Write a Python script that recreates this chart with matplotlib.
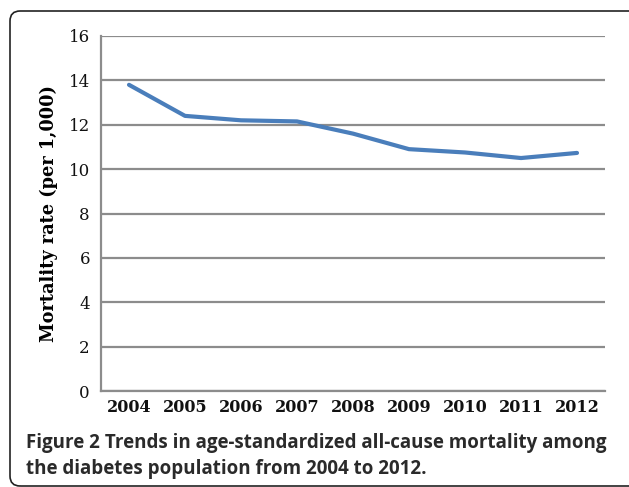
import matplotlib
matplotlib.use("Agg")
import matplotlib.pyplot as plt
from matplotlib.patches import FancyBboxPatch

# Age-standardized all-cause mortality (per 1,000)
years = ["2004", "2005", "2006", "2007", "2008", "2009", "2010", "2011", "2012"]
mortality = [13.8, 12.4, 12.2, 12.15, 11.6, 10.9, 10.75, 10.5, 10.73]
y_ticks = [0, 2, 4, 6, 8, 10, 12, 14, 16]

W, H = 629, 487
fig = plt.figure(figsize=(W / 100, H / 100), dpi=100)

# plot area in pixels: left 101, right 605, top 36, bottom 391
ax = fig.add_axes([101 / W, 1 - 391 / H, 504 / W, 355 / H])

x = list(range(len(years)))
ax.plot(x, mortality, color="#4a7ebb", lw=3.0, solid_capstyle="round", zorder=3)

ax.set_xlim(-0.5, len(years) - 0.5)
ax.set_ylim(0, 16)
ax.set_yticks(y_ticks)
ax.set_yticklabels([str(v) for v in y_ticks], family="DejaVu Serif", fontsize=12)
ax.set_xticks(x)
ax.set_xticklabels(years, family="DejaVu Serif", fontweight="bold", fontsize=11.5)
ax.tick_params(length=0, pad=8, colors="#111111")
ax.tick_params(axis="x", pad=6)

ax.grid(axis="y", color="#8c8c8c", lw=1.6)
ax.set_axisbelow(True)
for side in ["top", "right"]:
    ax.spines[side].set_visible(False)
for side in ["left", "bottom"]:
    ax.spines[side].set_color("#8c8c8c")
    ax.spines[side].set_linewidth(1.6)

ax.set_ylabel("Mortality rate (per 1,000)", family="DejaVu Serif",
              fontweight="bold", fontsize=12.8, labelpad=8)

# caption
cap_kw = dict(family="Open Sans", fontsize=13.5, color="#2a2a2a",
              fontweight="bold")
t1 = fig.text(26 / W, 1 - 448 / H, "Figure 2", va="baseline", **cap_kw)
ax.annotate(" Trends in age-standardized all-cause mortality among",
            xy=(1, 0), xycoords=t1, va="bottom", **cap_kw)
fig.text(26 / W, 1 - 474 / H, "the diabetes population from 2004 to 2012.",
         va="baseline", **cap_kw)

# rounded frame around the figure
frame = FancyBboxPatch((10 / W, 1 - 486 / H), 630 / W, 475 / H,
                       boxstyle="round,pad=0,rounding_size=0.016",
                       transform=fig.transFigure, fill=False,
                       ec="#222222", lw=1.2, mutation_aspect=W / H)
fig.patches.append(frame)

fig.savefig("out.png", dpi=100)
